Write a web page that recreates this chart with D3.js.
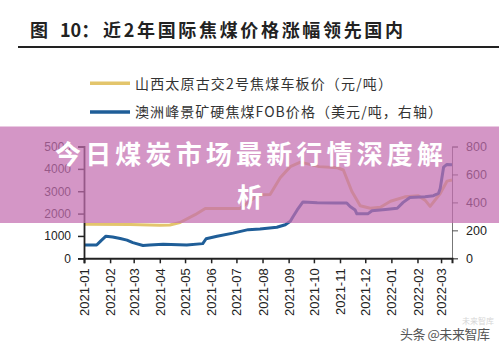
<!DOCTYPE html>
<meta charset="utf-8">
<html>
<head>
<script src="https://d3js.org/d3.v7.min.js"></script>
<style>
  body { margin: 0; background: #fff; }
  svg { display: block; }
  .tick text { font-family: "Liberation Sans", Arial, sans-serif; fill: #222; }
</style>
</head>
<body>
<div id="chart"></div>
<script>
    // 山西太原古交2号焦煤车板价 (元/吨, left axis)
    const cokeDates = ["2021-01-01","2021-02-25","2021-04-01","2021-04-13","2021-04-25","2021-05-13","2021-05-25",
        "2021-07-05","2021-07-15","2021-07-27","2021-08-10","2021-08-22","2021-09-03","2021-09-15","2021-10-07",
        "2021-10-29","2021-11-05","2021-11-15","2021-11-25","2021-12-07","2021-12-19","2021-12-31",
        "2022-01-17","2022-02-02","2022-02-10","2022-02-16","2022-02-28","2022-03-08","2022-03-14"];
    const cokePrices = [1520,1510,1480,1490,1600,1950,2230,
        2230,2500,2830,2850,3600,4100,4300,4100,
        4050,3950,3000,2350,2240,2280,2550,
        2750,2800,2600,2320,2900,3450,3500];

    // 澳洲峰景矿硬焦煤FOB价格 (美元/吨, right axis)
    const fobDates = ["2021-01-01","2021-01-16","2021-01-21","2021-01-27","2021-02-04","2021-02-13","2021-02-21",
        "2021-02-28","2021-03-12","2021-03-20","2021-04-05","2021-05-03","2021-05-22","2021-05-26","2021-06-08",
        "2021-06-27","2021-07-15","2021-07-29","2021-08-18","2021-08-28","2021-09-03","2021-09-06","2021-09-11",
        "2021-09-18","2021-10-05","2021-10-26","2021-11-09","2021-11-13","2021-11-19","2021-11-21","2021-12-04",
        "2021-12-09","2021-12-25","2022-01-08","2022-01-15","2022-01-23","2022-02-10","2022-02-20","2022-02-26",
        "2022-02-28","2022-03-04","2022-03-08","2022-03-14"];
    const fobPrices = [95,95,125,158,152,142,130,
        112,92,95,100,96,105,140,158,
        180,205,210,222,240,265,296,344,
        403,398,395,396,370,345,318,318,
        340,350,358,400,435,440,448,465,
        500,652,672,670];

    const leftTicks = [0, 1000, 2000, 3000, 4000, 5000];
    const rightTicks = [0, 200, 400, 600, 800];
    const xTickLabels = ["2021-01","2021-02","2021-03","2021-04","2021-05","2021-06","2021-07",
        "2021-08","2021-09","2021-10","2021-11","2021-12","2022-01","2022-02","2022-03"];

    const W = 499, H = 351;
    const plotLeft = 84, plotRight = 452, plotTop = 146.5, plotBottom = 258.3;
    const yellow = "#e3c56c", blue = "#1f5e98";
    const cjk = '"Noto Sans CJK SC", "Noto Sans", sans-serif';

    const parse = d3.timeParse("%Y-%m-%d");
    const parseM = d3.timeParse("%Y-%m");

    const svg = d3.select("#chart").append("svg")
        .attr("width", W).attr("height", H);

    // title
    const title = svg.append("text")
        .attr("y", 36.8)
        .attr("font-family", cjk)
        .attr("font-weight", "bold")
        .attr("font-size", 18)
        .attr("fill", "#222");
    title.append("tspan").attr("x", 30).text("图");
    title.append("tspan").attr("x", 60).text("10：");
    title.append("tspan").attr("x", 103).attr("textLength", 300).attr("lengthAdjust", "spacing")
        .text("近2年国际焦煤价格涨幅领先国内");

    svg.append("line")
        .attr("x1", 18).attr("x2", W).attr("y1", 47).attr("y2", 47)
        .attr("stroke", "#222").attr("stroke-width", 2);

    // legend
    const legendItems = [
        { label: "山西太原古交2号焦煤车板价（元/吨）", color: yellow, w: 257 },
        { label: "澳洲峰景矿硬焦煤FOB价格（美元/吨，右轴）", color: blue, w: 307 }
    ];
    legendItems.forEach((d, i) => {
        const yy = 83.3 + i * 28.7;
        svg.append("line")
            .attr("x1", 90).attr("x2", 130).attr("y1", yy).attr("y2", yy)
            .attr("stroke", d.color).attr("stroke-width", 3.5);
        svg.append("text")
            .attr("x", 135).attr("y", yy + 5.2)
            .attr("font-family", cjk).attr("font-size", 14).attr("fill", "#333")
            .attr("textLength", d.w).attr("lengthAdjust", "spacing")
            .text(d.label);
    });

    // scales
    const x = d3.scaleTime()
        .domain([parse("2021-01-01"), parse("2022-03-14")])
        .range([plotLeft, plotRight]);
    const yL = d3.scaleLinear().domain([0, 5000]).range([plotBottom, plotTop]);
    const yR = d3.scaleLinear().domain([0, 800]).range([plotBottom, plotTop]);

    // lines
    const cokeData = cokeDates.map((d, i) => ({ date: parse(d), value: cokePrices[i] }));
    const fobData = fobDates.map((d, i) => ({ date: parse(d), value: fobPrices[i] }));

    svg.append("path")
        .datum(cokeData)
        .attr("fill", "none").attr("stroke", yellow).attr("stroke-width", 3)
        .attr("stroke-linejoin", "round")
        .attr("d", d3.line().x(d => x(d.date)).y(d => yL(d.value)));

    svg.append("path")
        .datum(fobData)
        .attr("fill", "none").attr("stroke", blue).attr("stroke-width", 3)
        .attr("stroke-linejoin", "round")
        .attr("d", d3.line().x(d => x(d.date)).y(d => yR(d.value)));

    // axes
    const gL = svg.append("g")
        .attr("transform", `translate(${plotLeft},0)`)
        .call(d3.axisLeft(yL).tickValues(leftTicks).tickSize(6).tickPadding(7).tickFormat(d3.format("d")));
    gL.select(".domain").attr("stroke", "#222").attr("stroke-width", 1.8);
    gL.selectAll(".tick line").attr("stroke", "#222").attr("stroke-width", 1.5);
    gL.selectAll(".tick text").attr("font-size", 12);

    const gR = svg.append("g")
        .attr("transform", `translate(${plotRight},0)`)
        .call(d3.axisRight(yR).tickValues(rightTicks).tickSize(6).tickPadding(8));
    gR.select(".domain").attr("stroke", "#777").attr("stroke-width", 1);
    gR.selectAll(".tick line").attr("stroke", "#555").attr("stroke-width", 1);
    gR.selectAll(".tick text").attr("font-size", 12.5);

    const gX = svg.append("g")
        .attr("transform", `translate(0,${plotBottom})`)
        .call(d3.axisBottom(x).tickValues(xTickLabels.map(parseM)).tickSize(5).tickFormat(d3.timeFormat("%Y-%m")));
    gX.select(".domain").attr("stroke", "#222").attr("stroke-width", 2);
    gX.selectAll(".tick line").attr("stroke", "#222").attr("stroke-width", 1.5);
    gX.selectAll(".tick text")
        .attr("font-size", 13)
        .attr("text-anchor", "end")
        .attr("transform", "rotate(-90)")
        .attr("x", -10).attr("y", 0).attr("dy", "0.35em");

    // overlay banner
    svg.append("rect")
        .attr("x", 0).attr("y", 126.5).attr("width", W).attr("height", 96.5)
        .attr("fill", "rgb(196,110,176)").attr("fill-opacity", 0.72);

    svg.append("text")
        .attr("x", 55).attr("y", 164)
        .attr("font-family", cjk).attr("font-weight", "bold").attr("font-size", 26)
        .attr("fill", "#fff")
        .attr("textLength", 388).attr("lengthAdjust", "spacing")
        .text("今日煤炭市场最新行情深度解");
    svg.append("text")
        .attr("x", 250).attr("y", 207).attr("text-anchor", "middle")
        .attr("font-family", cjk).attr("font-weight", "bold").attr("font-size", 26)
        .attr("fill", "#fff")
        .text("析");

    // watermark
    svg.append("text")
        .attr("x", 462).attr("y", 323.5)
        .attr("font-family", cjk).attr("font-size", 8).attr("fill", "#d6d6d6")
        .text("未来智库");
    svg.append("text")
        .attr("x", 400).attr("y", 339)
        .attr("font-family", cjk).attr("font-size", 13).attr("fill", "#555")
        .attr("textLength", 90).attr("lengthAdjust", "spacing")
        .text("头条 @未来智库");
</script>
</body>
</html>
